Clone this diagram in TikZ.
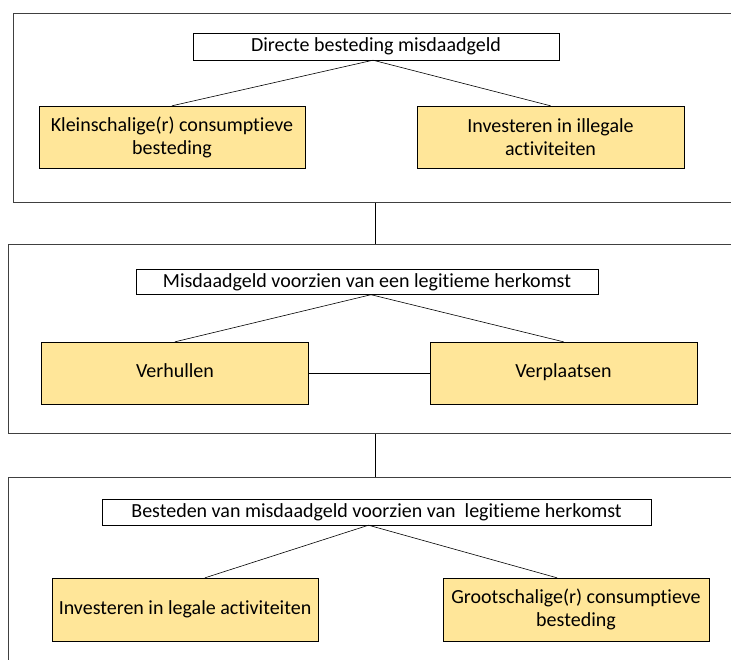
\documentclass[tikz,border=0pt]{standalone}
\usepackage{fontspec}
\setmainfont{Carlito}[Ligatures=NoCommon]
\usetikzlibrary{positioning}
\definecolor{goud}{HTML}{FFE699}
\tikzset{
	paneel/.style={draw=black!75, line width=1pt},
	kop/.style={draw, fill=white, inner sep=0pt, font=\fontsize{20}{23}\selectfont},
	blok/.style={draw, fill=goud, inner sep=0pt, align=center, font=\fontsize{20}{23}\selectfont},
	enkel/.style={blok, text height=14pt, text depth=4.5pt},
	lijn/.style={draw, line width=0.6pt}
}

\begin{document}
\begin{tikzpicture}[x=1pt, y=-1pt]
	\clip (0,0) rectangle (731,659);
	\fill[white] (0,0) rectangle (731,659);
	% panelen
	\node[paneel, minimum width=740, minimum height=189, anchor=north west] (p1) at (13,13){};
	\node[paneel, minimum width=740, minimum height=189, anchor=north west] (p2) at (8,244){};
	\node[paneel, minimum width=740, minimum height=200, anchor=north west] (p3) at (8,477){};
	% paneel 1
	\node[kop, minimum width=366, minimum height=27] (direct) at (376,46.5){Directe besteding misdaadgeld};
	\node[blok, minimum width=266, minimum height=62] (klein) at (172,137){Kleinschalige(r) consumptieve\\besteding};
	\node[blok, minimum width=267, minimum height=62] (illegaal) at (550.5,137){Investeren in illegale\\activiteiten};
	% paneel 2
	\node[kop, minimum width=462, minimum height=25] (herkomst) at (367,282){Misdaadgeld voorzien van een legitieme herkomst};
	\node[enkel, minimum width=267, minimum height=62] (verhul) at (175,373){Verhullen};
	\node[enkel, minimum width=267, minimum height=62] (verplaats) at (563.5,373){Verplaatsen};
	% paneel 3
	\node[kop, minimum width=549, minimum height=26] (besteden) at (376.5,512){Besteden van misdaadgeld voorzien van \ legitieme herkomst};
	\node[enkel, minimum width=266, minimum height=63] (legaal) at (185,609.5){Investeren in legale activiteiten};
	\node[blok, minimum width=266, minimum height=63] (groot) at (576,609.5){Grootschalige(r) consumptieve\\besteding};
	% verbindingen
	\draw[lijn] ([xshift=-3]direct.south) -- (klein.north);
	\draw[lijn] ([xshift=-3]direct.south) -- (illegaal.north);
	\draw[lijn] ([xshift=4]herkomst.south) -- (verhul.north);
	\draw[lijn] ([xshift=4]herkomst.south) -- (verplaats.north);
	\draw[lijn] (verhul) -- (verplaats);
	\draw[lijn] ([xshift=-8]besteden.south) -- ([xshift=20]legaal.north);
	\draw[lijn] ([xshift=-8]besteden.south) -- ([xshift=-19]groot.north);
	\draw[lijn] (p1.south -| 375,0) -- (p2.north -| 375,0);
	\draw[lijn] (p2.south -| 375,0) -- (p3.north -| 375,0);
\end{tikzpicture}
\end{document}
